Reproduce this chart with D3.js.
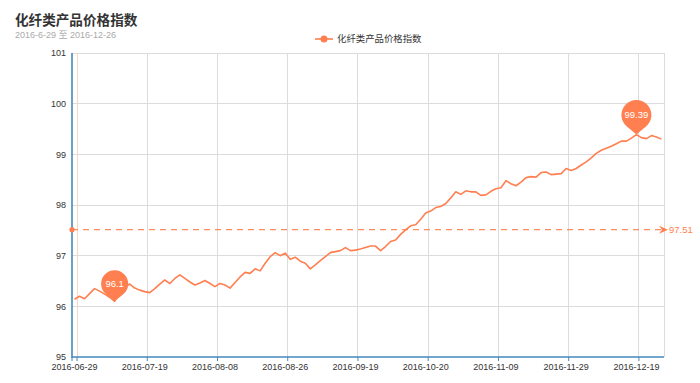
<!DOCTYPE html>
<html>
<head>
<meta charset="utf-8">
<script src="https://cdn.jsdelivr.net/npm/d3@7"></script>
<style>
  html, body { margin: 0; padding: 0; background: #fff; }
  svg { display: block; font-family: "Liberation Sans", Arial, "Noto Sans CJK SC", sans-serif; }
</style>
</head>
<body>
<svg id="chart" width="700" height="383"></svg>
<script>
const titleText = "化纤类产品价格指数";
const subtitleText = "2016-6-29 至 2016-12-26";
const seriesName = "化纤类产品价格指数";

const categories = [
  "2016-06-29","2016-06-30","2016-07-01","2016-07-04","2016-07-05","2016-07-06","2016-07-07","2016-07-08",
  "2016-07-11","2016-07-12","2016-07-13","2016-07-14","2016-07-15","2016-07-18","2016-07-19","2016-07-20",
  "2016-07-21","2016-07-22","2016-07-25","2016-07-26","2016-07-27","2016-07-28","2016-07-29","2016-08-01",
  "2016-08-02","2016-08-03","2016-08-04","2016-08-05","2016-08-08","2016-08-09","2016-08-10","2016-08-11",
  "2016-08-12","2016-08-15","2016-08-16","2016-08-17","2016-08-18","2016-08-19","2016-08-22","2016-08-23",
  "2016-08-24","2016-08-25","2016-08-26","2016-08-29","2016-08-30","2016-08-31","2016-09-01","2016-09-02",
  "2016-09-05","2016-09-06","2016-09-07","2016-09-08","2016-09-09","2016-09-12","2016-09-13","2016-09-14",
  "2016-09-19","2016-09-20","2016-09-21","2016-09-22","2016-09-23","2016-09-26","2016-09-27","2016-09-28",
  "2016-09-29","2016-09-30","2016-10-14","2016-10-17","2016-10-18","2016-10-19","2016-10-20","2016-10-21",
  "2016-10-24","2016-10-25","2016-10-26","2016-10-27","2016-10-28","2016-10-31","2016-11-01","2016-11-02",
  "2016-11-03","2016-11-04","2016-11-07","2016-11-08","2016-11-09","2016-11-10","2016-11-11","2016-11-14",
  "2016-11-15","2016-11-16","2016-11-17","2016-11-18","2016-11-21","2016-11-22","2016-11-23","2016-11-24",
  "2016-11-25","2016-11-28","2016-11-29","2016-11-30","2016-12-01","2016-12-02","2016-12-05","2016-12-06",
  "2016-12-07","2016-12-08","2016-12-09","2016-12-12","2016-12-13","2016-12-14","2016-12-15","2016-12-16",
  "2016-12-19","2016-12-20","2016-12-21","2016-12-22","2016-12-23","2016-12-26"
];

const values = [
  96.14,96.20,96.15,96.25,96.35,96.30,96.24,96.18,96.10,96.26,
  96.38,96.44,96.36,96.32,96.29,96.27,96.35,96.44,96.52,96.45,
  96.55,96.62,96.55,96.48,96.42,96.46,96.51,96.45,96.39,96.45,
  96.42,96.36,96.47,96.58,96.67,96.65,96.74,96.70,96.85,96.98,
  97.06,97.00,97.05,96.93,96.97,96.89,96.85,96.74,96.82,96.90,
  96.98,97.06,97.08,97.10,97.16,97.10,97.11,97.13,97.16,97.19,
  97.19,97.10,97.18,97.28,97.31,97.42,97.51,97.59,97.61,97.72,
  97.84,97.88,97.95,97.97,98.03,98.14,98.26,98.21,98.28,98.26,
  98.26,98.19,98.20,98.27,98.32,98.34,98.48,98.42,98.38,98.45,
  98.54,98.56,98.55,98.64,98.65,98.60,98.61,98.62,98.72,98.68,
  98.72,98.79,98.85,98.93,99.02,99.08,99.12,99.16,99.21,99.26,
  99.26,99.32,99.39,99.33,99.31,99.37,99.34,99.30
];

const yTicks = [95, 96, 97, 98, 99, 100, 101];
const labelInterval = 14;

const color = "#ff7f50";
const axisColor = "#4488bb";
const gridColor = "#dcdcdc";

const svg = d3.select("#chart");
const L = 72, R = 664, T = 53, B = 357;

const x = d3.scaleBand().domain(categories).range([L, R]).padding(0);
const bw = x.bandwidth();
const cx = c => x(c) + bw / 2;
const y = d3.scaleLinear().domain([95, 101]).range([B, T]);

// Title
svg.append("text").attr("x", 15).attr("y", 24.5)
  .attr("font-size", 13.6).attr("font-weight", "bold").attr("fill", "#333").text(titleText);
svg.append("text").attr("x", 15).attr("y", 37.7)
  .attr("font-size", 9).attr("fill", "#aaa").text(subtitleText);

// Legend
const lg = svg.append("g").attr("transform", "translate(0,39)");
lg.append("line").attr("x1", 315).attr("x2", 333).attr("y1", 0).attr("y2", 0)
  .attr("stroke", color).attr("stroke-width", 1.6);
lg.append("circle").attr("cx", 324).attr("cy", 0).attr("r", 3.5).attr("fill", color);
lg.append("text").attr("x", 337).attr("y", 0).attr("dy", "0.35em")
  .attr("font-size", 9.4).attr("fill", "#333").text(seriesName);

// Horizontal grid
svg.append("g").selectAll("line").data(yTicks.filter(t => t !== 95)).join("line")
  .attr("x1", L).attr("x2", R).attr("y1", d => y(d)).attr("y2", d => y(d))
  .attr("stroke", gridColor).attr("stroke-width", 1).attr("shape-rendering", "crispEdges");

// Vertical grid at interval boundaries
const labelIdx = d3.range(0, categories.length, labelInterval);
const boundaryX = labelIdx.map(i => x(categories[i]) + bw);
svg.append("g").selectAll("line").data(boundaryX).join("line")
  .attr("x1", d => d).attr("x2", d => d).attr("y1", T).attr("y2", B)
  .attr("stroke", (d, i) => i === 0 ? "#fbd8c4" : gridColor).attr("stroke-width", 1)
  .attr("shape-rendering", "crispEdges");
svg.append("line").attr("x1", R).attr("x2", R).attr("y1", T).attr("y2", B)
  .attr("stroke", gridColor).attr("shape-rendering", "crispEdges");

// X axis labels
const xAxis = d3.axisBottom(x).tickValues(labelIdx.map(i => categories[i])).tickSize(0).tickPadding(7);
const gx = svg.append("g").attr("transform", `translate(0,${B})`).call(xAxis);
gx.select(".domain").remove();
gx.selectAll("text").attr("font-size", 9).attr("fill", "#333")
  .attr("font-family", "'Liberation Sans', Arial, sans-serif");

// X tick marks
svg.append("g").selectAll("line").data([L].concat(boundaryX)).join("line")
  .attr("x1", d => d).attr("x2", d => d).attr("y1", B).attr("y2", B + 4)
  .attr("stroke", axisColor).attr("stroke-width", 1);

// Y axis labels
const yAxis = d3.axisLeft(y).tickValues(yTicks).tickFormat(d3.format("d")).tickSize(0).tickPadding(6);
const gy = svg.append("g").attr("transform", `translate(${L},0)`).call(yAxis);
gy.select(".domain").remove();
gy.selectAll("text").attr("font-size", 9).attr("fill", "#333")
  .attr("font-family", "'Liberation Sans', Arial, sans-serif");

// Axis lines
svg.append("line").attr("x1", L).attr("x2", L).attr("y1", T).attr("y2", B + 1)
  .attr("stroke", axisColor).attr("stroke-width", 1.6);
svg.append("line").attr("x1", L).attr("x2", R).attr("y1", B).attr("y2", B)
  .attr("stroke", axisColor).attr("stroke-width", 1.6);

// Series line
const line = d3.line().x((d, i) => cx(categories[i])).y(d => y(d));
svg.append("path").datum(values).attr("d", line)
  .attr("fill", "none").attr("stroke", color).attr("stroke-width", 1.6)
  .attr("stroke-linejoin", "round");

// Average markLine
const meanV = d3.mean(values);
const my = y(meanV);
svg.append("line").attr("x1", L).attr("x2", R - 2).attr("y1", my).attr("y2", my)
  .attr("stroke", color).attr("stroke-opacity", 0.9).attr("stroke-width", 1.4)
  .attr("stroke-dasharray", "6,5");
svg.append("circle").attr("cx", L).attr("cy", my).attr("r", 2.6).attr("fill", color);
svg.append("path")
  .attr("d", `M${R + 4},${my} L${R - 5},${my - 4} L${R - 2},${my} L${R - 5},${my + 4} Z`)
  .attr("fill", color);
svg.append("text").attr("x", R + 5).attr("y", my).attr("dy", "0.35em")
  .attr("font-size", 9.5).attr("fill", color).text(meanV.toFixed(2));

// Mark points (max / min)
function pinPath(px, py, r, d) {
  const cy0 = py - d;
  const a = Math.acos(r / d);
  const lx = px - r * Math.sin(a), rx = px + r * Math.sin(a);
  const ty = cy0 + r * Math.cos(a);
  return `M${px},${py} L${lx},${ty} A${r},${r} 0 1 1 ${rx},${ty} Z`;
}
const maxI = d3.maxIndex(values), minI = d3.minIndex(values);
const pins = [
  { i: maxI, v: values[maxI], r: 15, d: 19.5 },
  { i: minI, v: values[minI], r: 13.5, d: 17.5 }
];
const pg = svg.append("g").selectAll("g").data(pins).join("g");
pg.append("path").attr("d", p => pinPath(cx(categories[p.i]), y(p.v), p.r, p.d)).attr("fill", color);
pg.append("text").attr("x", p => cx(categories[p.i])).attr("y", p => y(p.v) - p.d)
  .attr("dy", "0.35em").attr("text-anchor", "middle").attr("font-size", 9.5)
  .attr("fill", "#fff").text(p => String(p.v));
</script>
</body>
</html>
